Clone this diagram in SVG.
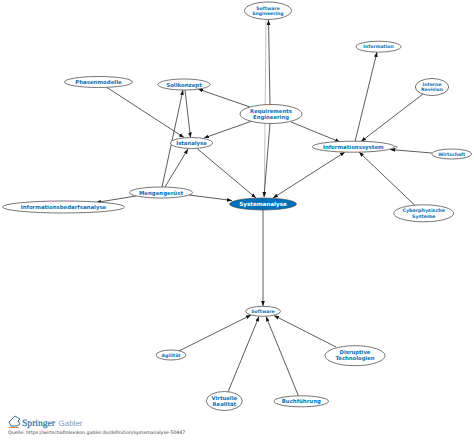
<svg xmlns="http://www.w3.org/2000/svg" width="474" height="440" viewBox="0 0 474 440">
<style>
text{text-rendering:geometricPrecision}
.n ellipse{fill:#fff;stroke:#666;stroke-width:.9}
.n text,.s text{font-family:"DejaVu Sans",sans-serif;font-weight:700;font-size:5.4px;fill:#0a70b8;text-anchor:middle}
.s ellipse{fill:#0070bb;stroke:#444;stroke-width:.6}
.s text{fill:#fff;font-size:5.6px}
.t text{font-size:4.6px}
.m text{font-size:5.3px}
.c line{stroke:#4a4a4a;stroke-width:.9;marker-end:url(#a)}
</style>
<defs>
<marker id="a" viewBox="0 0 8 6" refX="8" refY="3" markerWidth="5" markerHeight="4" markerUnits="userSpaceOnUse" orient="auto"><path d="M0 0L8 3L0 6z" fill="#111"/></marker>
<marker id="b" viewBox="0 0 8 6" refX="8" refY="3" markerWidth="5" markerHeight="4" markerUnits="userSpaceOnUse" orient="auto-start-reverse"><path d="M0 0L8 3L0 6z" fill="#111"/></marker>
<marker id="g" viewBox="0 0 8 6" refX="8" refY="3" markerWidth="5" markerHeight="4" markerUnits="userSpaceOnUse" orient="auto"><path d="M0 0L8 3L0 6z" fill="#aaa"/></marker>
</defs>
<rect width="474" height="440" fill="#fff"/>
<g id="connectors" class="c">
<line x1="266" y1="20" x2="264.300" y2="197" style="stroke:#bbb;marker-end:url(#g)"/>
<line x1="107" y1="87.500" x2="184" y2="137.500"/>
<line x1="162" y1="187" x2="183" y2="90"/>
<line x1="165" y1="187" x2="188" y2="149"/>
<line x1="185" y1="90" x2="190.500" y2="137.500"/>
<line x1="136" y1="196" x2="96" y2="202.500"/>
<line x1="189" y1="195" x2="232" y2="200.500"/>
<line x1="197" y1="148.500" x2="256" y2="198"/>
<line x1="250" y1="107" x2="198" y2="89"/>
<line x1="252" y1="121" x2="204" y2="138"/>
<line x1="270" y1="105" x2="268.500" y2="20"/>
<line x1="270" y1="123.500" x2="264" y2="197"/>
<line x1="291" y1="122" x2="340" y2="142"/>
<line x1="355" y1="141.500" x2="377" y2="52"/>
<line x1="423" y1="94" x2="361" y2="141.500"/>
<line x1="432" y1="153" x2="390" y2="149.500"/>
<line x1="415" y1="205.500" x2="359" y2="152"/>
<line x1="273" y1="198" x2="345" y2="152" style="marker-start:url(#b);marker-end:url(#b)"/>
<line x1="263" y1="210" x2="263" y2="306"/>
<line x1="179" y1="351" x2="251" y2="315"/>
<line x1="228" y1="392" x2="259" y2="316.500"/>
<line x1="298.500" y1="396" x2="266" y2="316.500"/>
<line x1="336" y1="347" x2="274" y2="315.500"/>
<path d="M394 146.700C398 145 398 149 394 148.500" fill="none" stroke="#444" stroke-width=".7"/>
</g>
<g id="phasenmodelle" class="n"><ellipse cx="98.500" cy="82" rx="34" ry="5.500"/><text x="98.500" y="84">Phasenmodelle</text></g>
<g id="sollkonzept" class="n"><ellipse cx="184" cy="84.500" rx="26" ry="5.500"/><text x="184" y="86.500">Sollkonzept</text></g>
<g id="istanalyse" class="n m"><ellipse cx="191.500" cy="143" rx="21" ry="5.500"/><text x="191.500" y="145">Istanalyse</text></g>
<g id="mengengeruest" class="n"><ellipse cx="161" cy="192.500" rx="31.500" ry="5.500"/><text x="161" y="194.500">Mengengerüst</text></g>
<g id="informationsbedarfsanalyse" class="n"><ellipse cx="63.500" cy="207" rx="61" ry="6"/><text x="63.500" y="209">Informationsbedarfsanalyse</text></g>
<g id="systemanalyse" class="s"><ellipse cx="263" cy="204" rx="33.500" ry="6"/><text x="263" y="206">Systemanalyse</text></g>
<g id="software-engineering" class="n t"><ellipse cx="268" cy="10.700" rx="23.500" ry="8.700"/><text x="268" y="9.500">Software</text><text x="268" y="14.500">Engineering</text></g>
<g id="requirements-engineering" class="n m"><ellipse cx="271" cy="114" rx="31" ry="9.500"/><text x="271" y="113">Requirements</text><text x="271" y="119">Engineering</text></g>
<g id="information" class="n t"><ellipse cx="378.500" cy="46.700" rx="22.500" ry="5.500"/><text x="378.500" y="48.300">Information</text></g>
<g id="interne-revision" class="n t"><ellipse cx="432" cy="87" rx="16.700" ry="8.500"/><text x="432" y="85.500">Interne</text><text x="432" y="90.800">Revision</text></g>
<g id="informationssystem" class="n"><ellipse cx="353.300" cy="146.700" rx="41" ry="5.500"/><text x="353.300" y="148.700">Informationssystem</text></g>
<g id="wirtschaft" class="n t"><ellipse cx="451.700" cy="154" rx="20" ry="5"/><text x="451.700" y="155.600">Wirtschaft</text></g>
<g id="cyberphysische-systeme" class="n t"><ellipse cx="423.700" cy="213.300" rx="30" ry="8.500"/><text x="423.700" y="212.200" style="font-size:4.800px">Cyberphysische</text><text x="423.700" y="217.600" style="font-size:4.800px">Systeme</text></g>
<g id="software" class="n t"><ellipse cx="263" cy="311.300" rx="17.500" ry="5"/><text x="263" y="312.900">Software</text></g>
<g id="agilitaet" class="n t"><ellipse cx="171" cy="355" rx="15" ry="5"/><text x="171" y="356.600">Agilität</text></g>
<g id="virtuelle-realitaet" class="n m"><ellipse cx="224.300" cy="401" rx="18" ry="9.500"/><text x="224.300" y="399.800">Virtuelle</text><text x="224.300" y="405.800">Realität</text></g>
<g id="buchfuehrung" class="n"><ellipse cx="301.300" cy="401.300" rx="27.300" ry="5.500"/><text x="301.300" y="403.300">Buchführung</text></g>
<g id="disruptive-technologien" class="n m"><ellipse cx="355" cy="355.700" rx="30" ry="10"/><text x="355" y="354">Disruptive</text><text x="355" y="360">Technologien</text></g>
<g id="logo">
<path d="M9 422L15 416L20 419L18 421L20 424L17 426H11z" fill="none" stroke="#3b6ea5" stroke-width="1"/>
<path d="M9 427.500H19" stroke="#e08a4a" stroke-width="1"/>
<text x="22" y="425.500" font-family="'Liberation Serif',serif" font-size="9.600" fill="#2f6aa3" stroke="#2f6aa3" stroke-width=".2">Springer</text>
<text x="58.500" y="425.500" font-family="'Liberation Sans',sans-serif" font-size="8" fill="#7d9cc0">Gabler</text>
</g>
<text x="8" y="433.500" font-family="'DejaVu Sans',sans-serif" font-size="4.700" fill="#444">Quelle: https://wirtschaftslexikon.gabler.de/definition/systemanalyse-50447</text>
</svg>
